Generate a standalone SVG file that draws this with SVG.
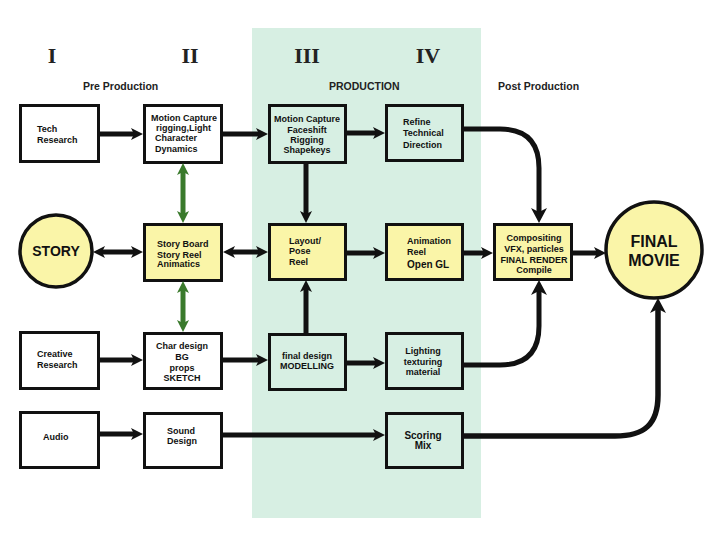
<svg xmlns="http://www.w3.org/2000/svg" width="709" height="548" viewBox="0 0 709 548">
<style>
.t{font-family:"Liberation Sans",Arial,sans-serif;font-weight:bold;font-size:9px;fill:#111}
.c{text-anchor:middle}
.h{font-family:"Liberation Sans",Arial,sans-serif;font-weight:bold;font-size:10.5px;fill:#222}
.r{font-family:"Liberation Serif","Times New Roman",serif;font-weight:bold;font-size:22px;fill:#222;text-anchor:middle}
.box{fill:#ffffff;stroke:#111;stroke-width:3}
.ybox{fill:#faf5a8;stroke:#111;stroke-width:3}
.gbox{fill:#d7efe3;stroke:#111;stroke-width:3}
.ln{fill:none;stroke:#111;stroke-width:5}
.gl{fill:none;stroke:#3a7a2c;stroke-width:5}
</style>
<defs>
<marker id="a" markerUnits="userSpaceOnUse" viewBox="0 -6 12 12" markerWidth="12" markerHeight="12" refX="4" refY="0" orient="auto-start-reverse">
<path d="M0,-6 L12,0 L0,6 L3,0 z" fill="#111"/>
</marker>
<marker id="b" markerUnits="userSpaceOnUse" viewBox="0 -8 15 16" markerWidth="15" markerHeight="16" refX="6" refY="0" orient="auto">
<path d="M0,-8 L15,0 L0,8 L4,0 z" fill="#111"/>
</marker>
<marker id="g" markerUnits="userSpaceOnUse" viewBox="0 -6 12 12" markerWidth="12" markerHeight="12" refX="4" refY="0" orient="auto-start-reverse">
<path d="M0,-6 L12,0 L0,6 L3,0 z" fill="#3a7a2c"/>
</marker>
</defs>
<rect x="0" y="0" width="709" height="548" fill="#ffffff"/>
<rect id="production-panel" x="252" y="28" width="229" height="490" fill="#d7efe3"/>

<g id="headers">
<text class="r" x="52" y="63">I</text>
<text class="r" x="190" y="63">II</text>
<text class="r" x="307" y="63">III</text>
<text class="r" x="428" y="63">IV</text>
<text class="h" x="83" y="90">Pre Production</text>
<text class="h" x="329" y="90">PRODUCTION</text>
<text class="h" x="498" y="90">Post Production</text>
</g>

<g id="tech-research"><rect class="box" x="20.5" y="105.5" width="78" height="56"/>
<text class="t" x="37" y="131.5">Tech</text><text class="t" x="37" y="142.5">Research</text></g>
<g id="motion-capture-rigging"><rect class="box" x="144.5" y="105.5" width="77" height="57"/>
<text class="t" x="151" y="120.5">Motion Capture</text><text class="t" x="156" y="130.5">rigging,Light</text><text class="t" x="155" y="141">Character</text><text class="t" x="155" y="151.5">Dynamics</text></g>
<g id="motion-capture-faceshift"><rect class="gbox" x="269.5" y="105.5" width="76" height="57"/>
<text class="t c" x="307" y="121.5">Motion Capture</text><text class="t c" x="307" y="132.5">Faceshift</text><text class="t c" x="307" y="142.5">Rigging</text><text class="t c" x="307" y="152.5">Shapekeys</text></g>
<g id="refine"><rect class="gbox" x="386.5" y="105.5" width="76" height="55"/>
<text class="t" x="403" y="125">Refine</text><text class="t" x="403" y="136">Technical</text><text class="t" x="403" y="147.5">Direction</text></g>

<g id="story"><circle cx="56" cy="251" r="36" fill="#faf5a8" stroke="#111" stroke-width="3.5"/>
<text class="t c" x="56" y="256" style="font-size:14px">STORY</text></g>
<g id="story-board"><rect class="ybox" x="144.5" y="224.5" width="77" height="56"/>
<text class="t" x="157" y="246.5">Story Board</text><text class="t" x="157" y="257.5">Story Reel</text><text class="t" x="157" y="267">Animatics</text></g>
<g id="layout"><rect class="ybox" x="269.5" y="224.5" width="76" height="55"/>
<text class="t" x="289" y="243.5">Layout/</text><text class="t" x="289" y="254">Pose</text><text class="t" x="289" y="264.5">Reel</text></g>
<g id="animation"><rect class="ybox" x="386.5" y="224.5" width="76" height="55"/>
<text class="t" x="407" y="244">Animation</text><text class="t" x="407" y="254.5">Reel</text><text class="t" x="407" y="268" style="font-size:10px">Open GL</text></g>
<g id="compositing"><rect class="ybox" x="494.5" y="224.5" width="77" height="55"/>
<text class="t c" x="534" y="241">Compositing</text><text class="t c" x="534" y="252">VFX, particles</text><text class="t c" x="534" y="262.5">FINAL RENDER</text><text class="t c" x="534" y="273">Compile</text></g>
<g id="final-movie"><circle cx="654" cy="250" r="48" fill="#faf5a8" stroke="#111" stroke-width="3.5"/>
<text class="t c" x="654" y="247" style="font-size:16px">FINAL</text><text class="t c" x="654" y="266" style="font-size:16px">MOVIE</text></g>

<g id="creative-research"><rect class="box" x="20.5" y="332.5" width="78" height="56"/>
<text class="t" x="37" y="356.5">Creative</text><text class="t" x="37" y="367.5">Research</text></g>
<g id="char-design"><rect class="box" x="144.5" y="333.5" width="77" height="55"/>
<text class="t c" x="182" y="349">Char design</text><text class="t c" x="182" y="359.5">BG</text><text class="t c" x="182" y="370.5">props</text><text class="t c" x="182" y="381">SKETCH</text></g>
<g id="final-design"><rect class="gbox" x="269.5" y="334.5" width="76" height="55"/>
<text class="t c" x="307" y="358.5">final design</text><text class="t c" x="307" y="369">MODELLING</text></g>
<g id="lighting"><rect class="gbox" x="386.5" y="333.5" width="76" height="55"/>
<text class="t c" x="423" y="353.5">Lighting</text><text class="t c" x="423" y="364.5">texturing</text><text class="t c" x="423" y="374.5">material</text></g>

<g id="audio"><rect class="box" x="20.5" y="412.5" width="78" height="55"/>
<text class="t" x="43" y="440">Audio</text></g>
<g id="sound-design"><rect class="box" x="144.5" y="413.5" width="77" height="54"/>
<text class="t" x="167" y="433.5">Sound</text><text class="t" x="167" y="444">Design</text></g>
<g id="scoring-mix"><rect class="gbox" x="386.5" y="413.5" width="76" height="54"/>
<text class="t c" x="423" y="438.5" style="font-size:10px">Scoring</text><text class="t c" x="423" y="449" style="font-size:10px">Mix</text></g>

<g id="connectors">
<path class="ln" d="M99,134 L135,134" marker-end="url(#a)"/>
<path class="ln" d="M223,134 L260,134" marker-end="url(#a)"/>
<path class="ln" d="M347,133 L377,133" marker-end="url(#a)"/>
<path class="ln" d="M464,129 L500,129 C526,129 539,142 539,168 L539,214" marker-end="url(#b)"/>
<path class="ln" d="M306,163 L306,215" marker-end="url(#a)"/>
<path class="ln" d="M101,252 L135,252" marker-start="url(#a)" marker-end="url(#a)"/>
<path class="ln" d="M231,252 L260,252" marker-start="url(#a)" marker-end="url(#a)"/>
<path class="ln" d="M347,253 L377,253" marker-end="url(#a)"/>
<path class="ln" d="M464,253 L485,253" marker-end="url(#a)"/>
<path class="ln" d="M573,253 L598,253" marker-end="url(#a)"/>
<path class="gl" d="M183,171 L183,215" marker-start="url(#g)" marker-end="url(#g)"/>
<path class="gl" d="M183,289 L183,324" marker-start="url(#g)" marker-end="url(#g)"/>
<path class="ln" d="M306,333 L306,288" marker-end="url(#a)"/>
<path class="ln" d="M99,360 L135,360" marker-end="url(#a)"/>
<path class="ln" d="M223,360 L260,360" marker-end="url(#a)"/>
<path class="ln" d="M347,363 L377,363" marker-end="url(#a)"/>
<path class="ln" d="M464,365 L500,365 C526,365 539,352 539,326 L539,289" marker-end="url(#b)"/>
<path class="ln" d="M99,434 L135,434" marker-end="url(#a)"/>
<path class="ln" d="M223,435 L377,435" marker-end="url(#a)"/>
<path class="ln" d="M464,436 L615,436 C645,436 658,424 658,395 L658,307" marker-end="url(#b)" style="stroke-width:5.5"/>
</g>
</svg>
